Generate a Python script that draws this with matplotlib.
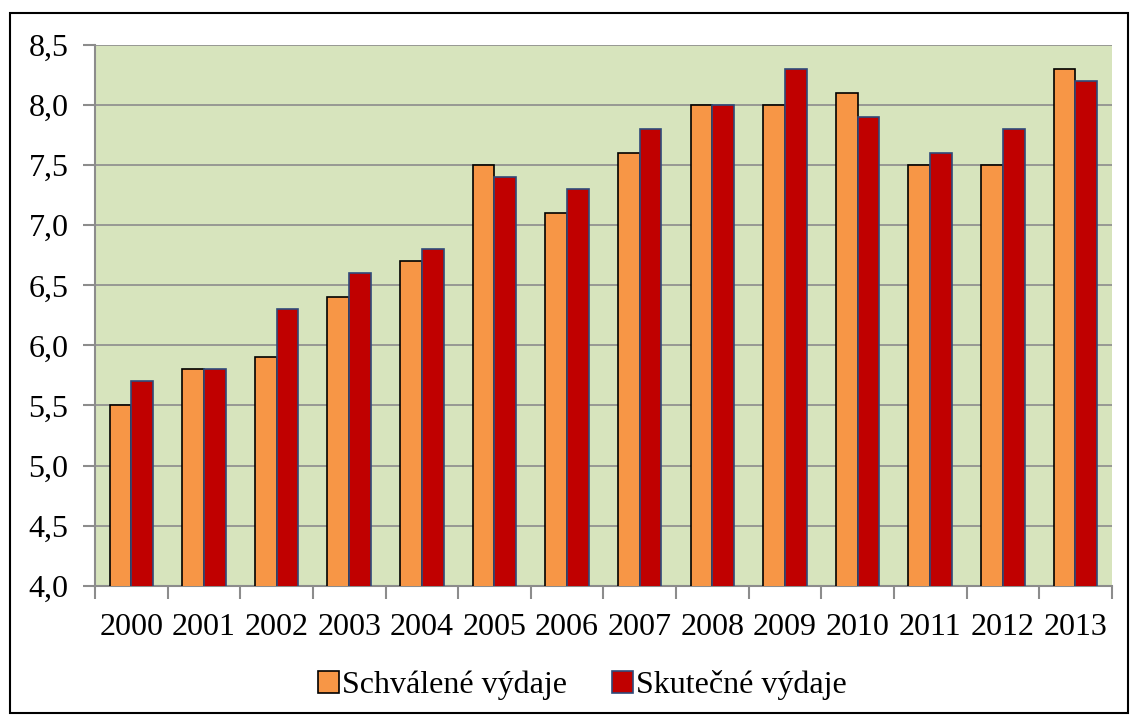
import numpy as np
import matplotlib.pyplot as plt
from matplotlib.patches import Rectangle

years = ['2000', '2001', '2002', '2003', '2004', '2005', '2006',
         '2007', '2008', '2009', '2010', '2011', '2012', '2013']
schvalene = [5.5, 5.8, 5.9, 6.4, 6.7, 7.5, 7.1, 7.6, 8.0, 8.0, 8.1, 7.5, 7.5, 8.3]
skutecne = [5.7, 5.8, 6.3, 6.6, 6.8, 7.4, 7.3, 7.8, 8.0, 8.3, 7.9, 7.6, 7.8, 8.2]
yticks = [4.0, 4.5, 5.0, 5.5, 6.0, 6.5, 7.0, 7.5, 8.0, 8.5]

plt.rcParams['font.family'] = ['Liberation Serif', 'DejaVu Serif']

fig = plt.figure(figsize=(11.31, 7.16), dpi=100)
ax = fig.add_axes([0.084, 0.182, 0.899, 0.755])
ax.set_facecolor('#D7E4BD')

x = np.arange(len(years))
w = 0.3
ax.bar(x - w/2, schvalene, w, bottom=0, color='#F79646', edgecolor='black',
       linewidth=1.2, label='Schválené výdaje', zorder=3)
ax.bar(x + w/2, skutecne, w, bottom=0, color='#C00000', edgecolor='#2E4A7A',
       linewidth=1.2, label='Skutečné výdaje', zorder=3)

ax.set_ylim(4.0, 8.5)
ax.set_xlim(-0.5, len(years) - 0.5)
ax.set_yticks(yticks)
ax.set_yticklabels([f'{v:.1f}'.replace('.', ',') for v in yticks])
ax.yaxis.grid(True, color='#8C8C8C', linewidth=1.2, zorder=0)

# x ticks at category borders, labels centred
ax.set_xticks(np.arange(len(years) + 1) - 0.5)
ax.set_xticklabels([])
ax.set_xticks(x, minor=True)
ax.set_xticklabels(years, minor=True)
ax.tick_params(axis='x', which='minor', length=0, pad=20, labelsize=23)
ax.tick_params(axis='x', which='major', length=9, width=1.5, color='#8C8C8C')
ax.tick_params(axis='y', length=9, width=1.5, color='#8C8C8C', labelsize=23, pad=10)

for side in ['top', 'right']:
    ax.spines[side].set_visible(False)
for side in ['left', 'bottom']:
    ax.spines[side].set_color('#8C8C8C')
    ax.spines[side].set_linewidth(1.5)

leg = fig.legend(loc='center', bbox_to_anchor=(0.515, 0.043), ncol=2, frameon=False,
                 fontsize=23, handlelength=0.65, handleheight=0.65,
                 handletextpad=0.1, columnspacing=1.4)

fig.patches.append(Rectangle((0.009, 0.004), 0.988, 0.978, transform=fig.transFigure,
                             fill=False, edgecolor='black', linewidth=1.5))

fig.savefig('out.png', dpi=100)
